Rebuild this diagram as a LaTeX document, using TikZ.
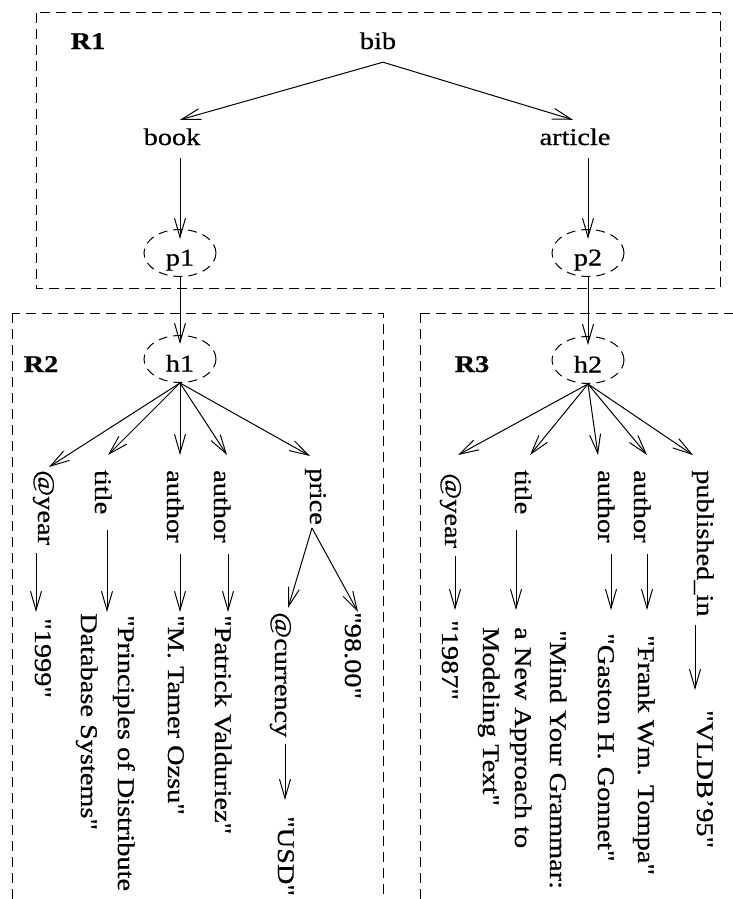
\documentclass[tikz,border=0pt]{standalone}
\usepackage{fontspec}
\setmainfont{Liberation Serif}[FakeStretch=1.18, FakeBold=0.7, Ligatures=TeXOff]
\usetikzlibrary{arrows.meta,shapes.geometric}

\begin{document}
\begin{tikzpicture}[x=1pt,y=-1pt,
  every node/.style={font=\fontsize{24pt}{36pt}\selectfont},
  arr/.style={-{Straight Barb[length=19pt,width=11pt]}, line width=1pt},
  region/.style={dash pattern=on 10pt off 6pt, line width=1pt},
  hlab/.style={anchor=base, inner xsep=0pt, inner ysep=8pt, text height=17pt, text depth=5pt},
  vlab/.style={rotate=-90, anchor=base west, inner xsep=8pt, inner ysep=0pt, text height=17pt, text depth=5pt},
  tag/.style={hlab, font=\fontsize{24pt}{36pt}\selectfont\bfseries},
  oval/.style={ellipse, draw, dash pattern=on 9pt off 6pt, line width=1pt, minimum width=72pt, minimum height=47pt, inner sep=0pt, text height=25pt, text depth=0pt},
]
\useasboundingbox (0,0) rectangle (733,899);
\clip (0,0) rectangle (733,899);

% the three fragment regions
\draw[region] (36,13) rectangle (720,288);
\draw[region] (12,313) rectangle (383,930);
\draw[region] (420,313) rectangle (760,930);

% ---- R1 ----
\node[tag] (r1) at (88,49) {R1};
\node[hlab] (bib) at (378,49) {bib};
\node[hlab] (book) at (172,145) {book};
\node[hlab] (article) at (575,145) {article};
\node[oval] (p1) at (180,253) {p1};
\node[oval] (p2) at (588,253) {p2};

\draw[arr] ([xshift=5pt]bib.south) -- (book.north -| p1.north);
\draw[arr] ([xshift=5pt]bib.south) -- ([xshift=-2pt]article.north);
\draw[arr, shorten >=-10pt] (book.south -| p1.north) -- (p1.north);
\draw[arr, shorten >=-10pt] (article.south -| p2.north) -- (p2.north);

% ---- R2 ----
\node[tag] (r2) at (41,372) {R2};
\node[oval] (h1) at (180,359) {h1};
\node[vlab] (yr1) at (38,462) {@year};
\node[vlab] (ti1) at (95,462) {title};
\node[vlab] (au1) at (167,462) {author};
\node[vlab] (au2) at (214,462) {author};
\node[vlab] (pr1) at (310,460) {price};
\node[vlab] (v1) at (35,610) {"1999"};
\node[vlab] (v2a) at (118,607) {"Principles of Distribute};
\node[vlab] (v2b) at (81,605) {Database Systems"};
\node[vlab] (v3) at (168,607) {"M. Tamer Ozsu"};
\node[vlab] (v4) at (215,607) {"Patrick Valduriez"};
\node[vlab] (cur) at (275,604) {@currency};
\node[vlab] (v5) at (345,604) {"98.00"};
\node[vlab] (v6) at (278,808) {"USD"};

\draw[arr, shorten >=-9pt] (p1.south) -- (h1.north);
\draw[arr] (h1.south) -- ([shift={(5,5)}]yr1.west);
\draw[arr] (h1.south) -- ([shift={(7,-7)}]ti1.west);
\draw[arr] (h1.south) -- ([shift={(7,-7)}]au1.west);
\draw[arr] (h1.south) -- ([shift={(7,-7)}]au2.west);
\draw[arr] (h1.south) -- ([shift={(-6,-4)}]pr1.west);

\draw[arr] ([shift={(-8,0)}]yr1.east) -- ([shift={(-5,2)}]v1.west);
\draw[arr] ([shift={(6,8)}]ti1.east) -- ([shift={(-17,5)}]v2a.west);
\draw[arr] ([shift={(7,3)}]au1.east) -- ([shift={(6,5)}]v3.west);
\draw[arr] ([shift={(8,3)}]au2.east) -- ([shift={(7,5)}]v4.west);
\draw[arr] ([shift={(-4,-5)}]pr1.east) -- ([shift={(7,4)}]cur.west);
\draw[arr] ([shift={(-4,-5)}]pr1.east) -- ([shift={(7,8)}]v5.west);
\draw[arr] ([shift={(4,-2)}]cur.east) -- ([shift={(1,-8)}]v6.west);

% ---- R3 ----
\node[tag] (r3) at (472,372) {R3};
\node[oval] (h2) at (588,360) {h2};
\node[vlab] (yr2) at (445,465) {@year};
\node[vlab] (ti2) at (515,462) {title};
\node[vlab] (au3) at (598,462) {author};
\node[vlab] (au4) at (634,462) {author};
\node[vlab] (pub) at (697,462) {published\_in};
\node[vlab] (w1) at (442,612) {"1987"};
\node[vlab] (w2a) at (550,622) {"Mind Your Grammar:};
\node[vlab] (w2b) at (515,619) {a New Approach to};
\node[vlab] (w2c) at (483,619) {Modeling Text"};
\node[vlab] (w3) at (598,625) {"Gaston H. Gonnet"};
\node[vlab] (w4) at (638,627) {"Frank Wm. Tompa"};
\node[vlab] (w5) at (697,702) {"VLDB’95"};

\draw[arr, shorten >=-9pt] (p2.south) -- (h2.north);
\draw[arr] (h2.south) -- ([shift={(7,-10)}]yr2.west);
\draw[arr] (h2.south) -- ([shift={(9,-7)}]ti2.west);
\draw[arr] (h2.south) -- ([shift={(-6,-7)}]au3.west);
\draw[arr] (h2.south) -- ([shift={(7,-7)}]au4.west);
\draw[arr] (h2.south) -- ([shift={(-10,-7)}]pub.west);

\draw[arr] ([shift={(4,0)}]yr2.east) -- ([shift={(7,-2)}]w1.west);
\draw[arr] ([shift={(-5,8)}]ti2.east) -- ([shift={(-5,-9)}]w2b.west);
\draw[arr] ([shift={(7,3)}]au3.east) -- ([shift={(7,-15)}]w3.west);
\draw[arr] ([shift={(7,3)}]au4.east) -- ([shift={(3,-17)}]w4.west);
\draw[arr] ([shift={(-8,0)}]pub.east) -- ([shift={(-8,-12)}]w5.west);
\end{tikzpicture}
\end{document}
